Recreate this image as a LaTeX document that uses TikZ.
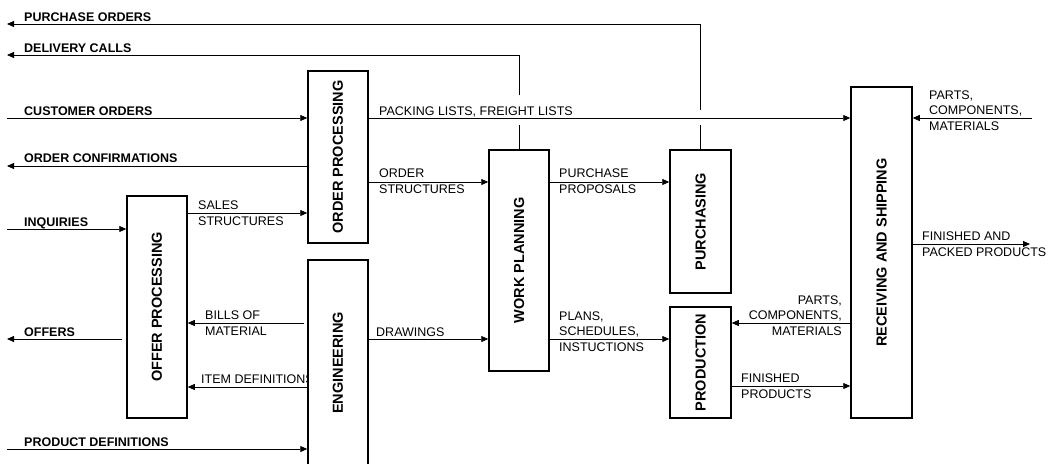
\documentclass[tikz,border=0pt]{standalone}
\usepackage{fontspec}
\setmainfont{Liberation Sans}
\usepackage{graphicx}
\usetikzlibrary{arrows.meta,backgrounds}

\begin{document}
\begin{tikzpicture}[
  x=1pt, y=-1pt,
  box/.style={draw, line width=1.5pt, fill=white, minimum width=60pt, inner sep=0pt,
              font=\fontsize{14.5}{17}\selectfont\bfseries},
  wire/.style={line width=0.8pt},
  arr/.style={wire, -{Triangle[length=7pt,width=6pt]}},
  lbl/.style={inner sep=0pt, align=left, font=\fontsize{12.5}{15.8}\selectfont},
  ext/.style={lbl, font=\fontsize{12.5}{15.8}\selectfont\bfseries}
]
  \useasboundingbox (0,0) rectangle (1048,463);

  % functions
  \node[box, minimum height=172pt] (op) at (338,157) {\rotatebox{90}{ORDER PROCESSING}};
  \node[box, minimum height=206pt] (en) at (338,363) {\rotatebox{90}{ENGINEERING}};
  \node[box, minimum height=222pt] (of) at (157,307) {\rotatebox{90}{OFFER PROCESSING}};
  \node[box, minimum height=221pt] (wp) at (519,260.5) {\rotatebox{90}{WORK PLANNING}};
  \node[box, minimum width=61pt, minimum height=143pt] (pu) at (700.5,221.5) {\rotatebox{90}{PURCHASING}};
  \node[box, minimum width=61pt, minimum height=111pt] (pr) at (700.5,362.5) {\rotatebox{90}{PRODUCTION}};
  \node[box, minimum width=61pt, minimum height=331pt] (rs) at (881.5,252.5) {\rotatebox{90}{RECEIVING AND SHIPPING}};

  \begin{scope}[on background layer]
    % outside ends
    \coordinate (po) at (7,24);
    \coordinate (dc) at (7,55);
    \coordinate (co) at (7,118);
    \coordinate (oc) at (7,166);
    \coordinate (iq) at (7,229);
    \coordinate (offers) at (7,339);
    \coordinate (pd) at (7,449);
    \coordinate (pcm) at (1032,118);
    \coordinate (fpp) at (1030,244);

    % flows
    \draw[wire] (pu.north) -- (pu.north |- 0,125);
    \draw[arr] (pu.north |- 0,110) |- (po);
    \draw[wire] (wp.north) -- (wp.north |- 0,125);
    \draw[arr] (wp.north |- 0,95) |- (dc);
    \draw[arr] (co) -- (co -| op.west);
    \draw[arr] (op.west |- oc) -- (oc);
    \draw[arr] (op.east |- co) -- (rs.west |- co);
    \draw[arr] (pcm) -- (pcm -| rs.east);
    \draw[arr] (op.east |- 0,182) -- (wp.west |- 0,182);
    \draw[arr] (wp.east |- 0,182) -- (pu.west |- 0,182);
    \draw[arr] (iq) -- (iq -| of.west);
    \draw[arr] (of.east |- 0,213) -- (op.west |- 0,213);
    \draw[arr, shorten <=3pt] (en.west |- 0,323) -- (of.east |- 0,323);
    \draw[arr, shorten <=4pt] (of.west |- offers) -- (offers);
    \draw[arr] (en.west |- 0,387) -- (of.east |- 0,387);
    \draw[arr] (pd) -- (pd -| en.west);
    \draw[arr] (en.east |- 0,339) -- (wp.west |- 0,339);
    \draw[arr] (wp.east |- 0,339) -- (pr.west |- 0,339);
    \draw[arr] (rs.west |- 0,323) -- (pr.east |- 0,323);
    \draw[arr] (pr.east |- 0,386) -- (rs.west |- 0,386);
    \draw[arr] (rs.east |- fpp) -- (fpp);

    % flow labels
    \node[ext, anchor=base west] (t-po) at (24,21) {PURCHASE ORDERS};
    \node[ext, anchor=base west] (t-dc) at (24,52) {DELIVERY CALLS};
    \node[ext, anchor=base west] (t-co) at (24,115) {CUSTOMER ORDERS};
    \node[ext, anchor=base west] (t-oc) at (24,162) {ORDER CONFIRMATIONS};
    \node[ext, anchor=base west] (t-iq) at (24,226) {INQUIRIES};
    \node[ext, anchor=base west] (t-of) at (24,336) {OFFERS};
    \node[ext, anchor=base west] (t-pd) at (24,446) {PRODUCT DEFINITIONS};
    \node[lbl, anchor=base west] (t-pl) at (379,115) {PACKING LISTS, FREIGHT LISTS};
    \node[lbl, anchor=west] (t-os) at (379,181.5) {ORDER\\STRUCTURES};
    \node[lbl, anchor=west] (t-pp) at (559,181.5) {PURCHASE\\PROPOSALS};
    \node[lbl, anchor=west] (t-ss) at (198,213) {SALES\\STRUCTURES};
    \node[lbl, anchor=west] (t-bm) at (205,323.5) {BILLS OF\\MATERIAL};
    \node[lbl, anchor=base west] (t-id) at (201,383) {ITEM DEFINITIONS};
    \node[lbl, anchor=base west] (t-dr) at (376,336) {DRAWINGS};
    \node[lbl, anchor=west] (t-ps) at (559,331.5) {PLANS,\\SCHEDULES,\\INSTUCTIONS};
    \node[lbl, anchor=west] (t-pcm) at (929,110.5) {PARTS,\\COMPONENTS,\\MATERIALS};
    \node[lbl, align=right, anchor=east] (t-pcm2) at (842,315.5) {PARTS,\\COMPONENTS,\\MATERIALS};
    \node[lbl, anchor=west] (t-fp) at (741,386.5) {FINISHED\\PRODUCTS};
    \node[lbl, anchor=west] (t-fpp) at (922,244.5) {FINISHED AND\\PACKED PRODUCTS};
  \end{scope}
\end{tikzpicture}
\end{document}
